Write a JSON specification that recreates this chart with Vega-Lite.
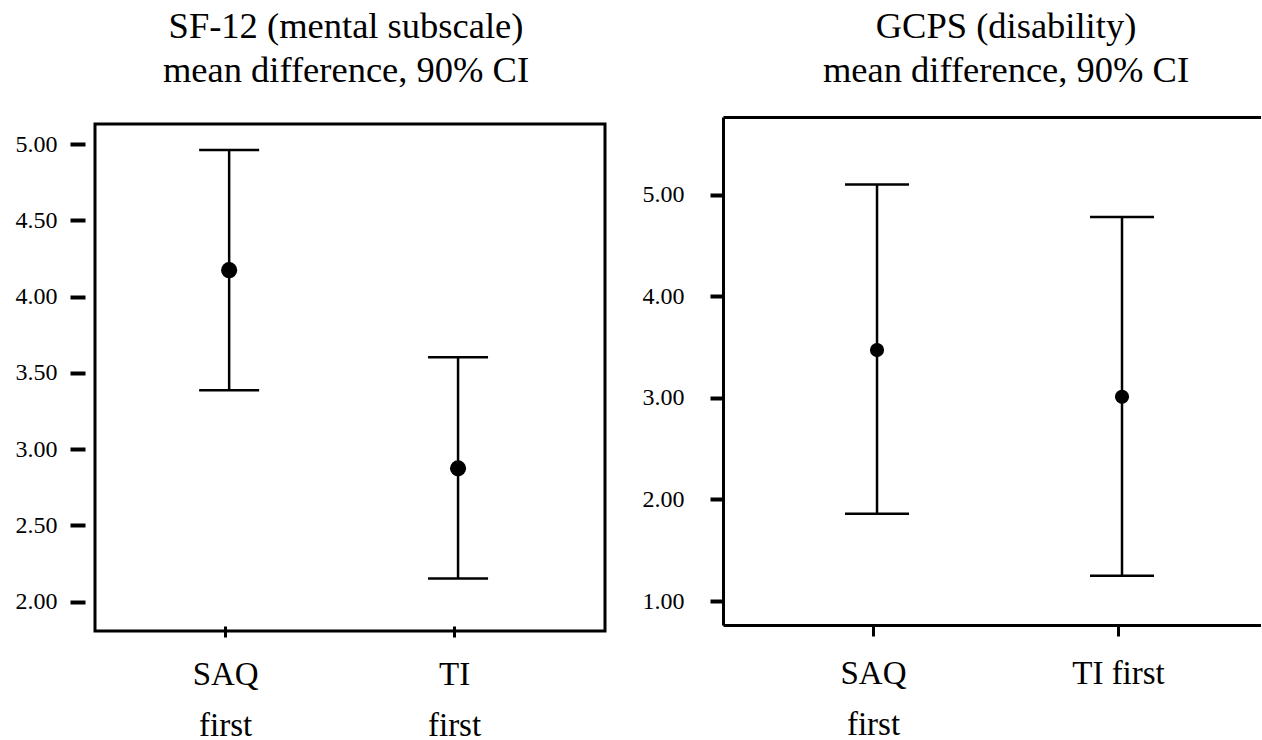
{
  "$schema": "https://vega.github.io/schema/vega-lite/v6.json",
  "autosize": {"type": "pad"},
  "padding": {"left": 13, "top": 7, "right": 0, "bottom": 0},
  "background": "white",
  "config": {
    "font": "Liberation Serif",
    "view": {"stroke": "black", "strokeWidth": 3},
    "axis": {"grid": false, "title": null, "labelColor": "black", "tickColor": "black", "domainColor": "black", "labelFont": "Liberation Serif"},
    "title": {"font": "Liberation Serif", "fontSize": 36.5, "fontWeight": "normal", "color": "black", "lineHeight": 44}
  },
  "datasets": {
    "sf12": [
      {"group": "SAQ first", "mean": 4.174, "lo": 3.386, "hi": 4.963},
      {"group": "TI first", "mean": 2.874, "lo": 2.152, "hi": 3.603}
    ],
    "gcps": [
      {"group": "SAQ first", "mean": 3.47, "lo": 1.86, "hi": 5.10},
      {"group": "TI first", "mean": 3.01, "lo": 1.25, "hi": 4.78}
    ]
  },
  "spacing": 35,
  "hconcat": [
    {
      "data": {"name": "sf12"},
      "width": 510,
      "height": 507,
      "title": {"text": ["SF-12 (mental subscale)", "mean difference, 90% CI"], "offset": 34.5, "dx": -4},
      "encoding": {
        "x": {
          "field": "group", "type": "nominal", "sort": null,
          "scale": {"type": "point", "padding": 0.614, "align": 0.463},
          "axis": {"orient": "bottom", "offset": -5, "domain": false, "tickSize": 11, "tickWidth": 3, "labelFont": "Liberation Serif", "labelFontSize": 33, "labelLineHeight": 51, "labelPadding": 21, "labelAngle": 0, "labelExpr": "split(datum.label, ' ')"}
        }
      },
      "layer": [
        {
          "mark": {"type": "rule", "strokeWidth": 2.5, "color": "black", "xOffset": 4},
          "encoding": {
            "y": {"field": "lo", "type": "quantitative", "scale": {"domain": [1.807, 5.133], "nice": false, "zero": false},
              "axis": {"offset": 10, "domain": false, "values": [2, 2.5, 3, 3.5, 4, 4.5, 5], "format": ".2f", "tickSize": 15, "tickWidth": 4, "labelPadding": 13, "labelFont": "Liberation Serif", "labelFontSize": 24}},
            "y2": {"field": "hi"}
          }
        },
        {
          "mark": {"type": "tick", "size": 60, "thickness": 2.5, "color": "black", "opacity": 1, "xOffset": 4},
          "encoding": {"y": {"field": "lo", "type": "quantitative"}}
        },
        {
          "mark": {"type": "tick", "size": 60, "thickness": 2.5, "color": "black", "opacity": 1, "xOffset": 4},
          "encoding": {"y": {"field": "hi", "type": "quantitative"}}
        },
        {
          "mark": {"type": "point", "filled": true, "opacity": 1, "size": 260, "color": "black", "xOffset": 4},
          "encoding": {"y": {"field": "mean", "type": "quantitative"}}
        }
      ]
    },
    {
      "data": {"name": "gcps"},
      "width": 538,
      "height": 501,
      "view": {"stroke": null},
      "title": {"text": ["GCPS (disability)", "mean difference, 90% CI"], "offset": 27.5, "dx": 14},
      "resolve": {"axis": {"x": "independent"}},
      "layer": [
        {
          "mark": {"type": "rule", "strokeWidth": 2.5, "color": "black", "xOffset": 4},
          "encoding": {
            "x": {
              "field": "group", "type": "nominal", "sort": null,
              "scale": {"type": "point", "padding": 0.598, "align": 0.512},
              "axis": {"orient": "bottom", "domain": true, "domainWidth": 3, "tickSize": 11, "tickWidth": 3, "labelFont": "Liberation Serif", "labelFontSize": 33, "labelLineHeight": 51, "labelPadding": 21, "labelAngle": 0, "labelExpr": "datum.label == 'SAQ first' ? split(datum.label, ' ') : datum.label"}
            },
            "y": {"field": "lo", "type": "quantitative", "scale": {"domain": [0.765, 5.764], "range": [501, -7], "nice": false, "zero": false},
              "axis": {"domain": true, "domainWidth": 3, "values": [1, 2, 3, 4, 5], "format": ".2f", "tickSize": 13, "tickWidth": 4, "labelPadding": 26, "labelFont": "Liberation Serif", "labelFontSize": 24}},
            "y2": {"field": "hi"}
          }
        },
        {
          "mark": {"type": "tick", "size": 64, "thickness": 2.5, "color": "black", "opacity": 1, "xOffset": 4},
          "encoding": {
            "x": {"field": "group", "type": "nominal", "sort": null, "axis": null},
            "y": {"field": "lo", "type": "quantitative"}
          }
        },
        {
          "mark": {"type": "tick", "size": 64, "thickness": 2.5, "color": "black", "opacity": 1, "xOffset": 4},
          "encoding": {
            "x": {"field": "group", "type": "nominal", "sort": null, "axis": null},
            "y": {"field": "hi", "type": "quantitative"}
          }
        },
        {
          "mark": {"type": "point", "filled": true, "opacity": 1, "size": 200, "color": "black", "xOffset": 4},
          "encoding": {
            "x": {"field": "group", "type": "nominal", "sort": null,
              "axis": {"orient": "top", "offset": 7, "labels": false, "ticks": false, "domain": true, "domainWidth": 3}},
            "y": {"field": "mean", "type": "quantitative"}
          }
        }
      ]
    }
  ]
}
